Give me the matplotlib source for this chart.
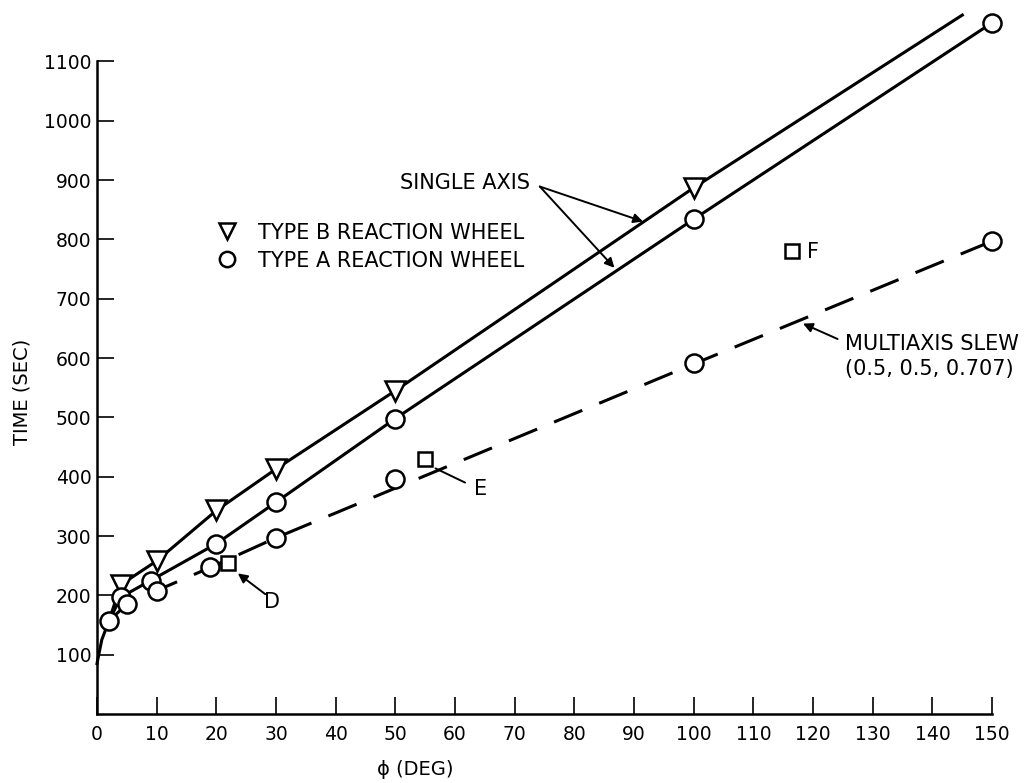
import matplotlib
matplotlib.use("Agg")
import matplotlib.pyplot as plt

# single axis slew, type A wheel (circles)
a_x = [2, 4, 9, 20, 30, 50, 100, 150]
a_y = [157, 197, 225, 287, 357, 498, 834, 1165]
# single axis slew, type B wheel (triangles)
b_x = [4, 10, 20, 30, 50, 100]
b_y = [218, 258, 343, 413, 545, 887]
# multiaxis slew (circles)
m_x = [5, 10, 19, 30, 50, 100, 150]
m_y = [185, 208, 247, 297, 396, 592, 797]
# special cases D, E, F (squares)
sq_x = [22, 55, 116.5]
sq_y = [255, 430, 781]

# hand drawn curves
a_line_x = [0, 0.8, 2, 4, 9, 20, 30, 50, 100, 150]
a_line_y = [85, 125, 157, 197, 225, 287, 357, 498, 834, 1165]
b_line_x = [2, 4, 10, 20, 30, 50, 100, 145]
b_line_y = [157, 218, 258, 343, 413, 545, 887, 1178]
m_line_x = [2, 5, 10, 19, 30, 100, 150]
m_line_y = [157, 185, 208, 247, 297, 590, 797]

x_ticks = list(range(0, 151, 10))
y_ticks = list(range(100, 1101, 100))

plt.rcParams["font.family"] = "DejaVu Sans"

fig = plt.figure(figsize=(10.31, 7.83), dpi=100)
ax = fig.add_axes([97 / 1031, 69 / 783, 925 / 1031, 712 / 783])
ax.set_xlim(0, 155)
ax.set_ylim(0, 1200)

for s in ["top", "right"]:
    ax.spines[s].set_visible(False)
ax.spines["left"].set_bounds(0, 1100)
ax.spines["bottom"].set_bounds(0, 150)
ax.spines["left"].set_linewidth(1.8)
ax.spines["bottom"].set_linewidth(1.8)

ax.set_xticks(x_ticks)
ax.set_yticks(y_ticks)
ax.tick_params(direction="in", length=12, width=1.2, labelsize=13.5)
ax.tick_params(axis="x", pad=8)
ax.tick_params(axis="y", pad=4)

lw = 2.2
ax.plot(a_line_x, a_line_y, "k-", lw=lw, zorder=2, clip_on=False)
ax.plot(b_line_x, b_line_y, "k-", lw=lw, zorder=2, clip_on=False)
ax.plot(m_line_x, m_line_y, "k", ls=(0, (10, 6)), lw=lw, zorder=2, clip_on=False)

mk = dict(ls="none", mfc="white", mec="k", mew=1.8, zorder=3, clip_on=False)
hb, = ax.plot(b_x, b_y, "v", ms=14, **mk)
ha, = ax.plot(a_x, a_y, "o", ms=13, **mk)
ax.plot(m_x, m_y, "o", ms=13, **mk)
ax.plot(sq_x, sq_y, "s", ms=10.5, **mk)

ax.legend([hb, ha], ["TYPE B REACTION WHEEL", "TYPE A REACTION WHEEL"],
          loc="upper left", bbox_to_anchor=(0.1297, 0.690), frameon=False,
          fontsize=15, markerscale=0.85, numpoints=1, handlelength=1.0,
          handletextpad=0.95, borderpad=0, borderaxespad=0, labelspacing=0.38)

fs = 15
arrow = dict(arrowstyle="-|>", color="k", lw=1.4, mutation_scale=14,
             shrinkA=0, shrinkB=0)

ax.text(72.6, 895, "SINGLE AXIS", ha="right", va="center", fontsize=fs)
ax.annotate("", xy=(91.5, 830), xytext=(74.2, 889), arrowprops=arrow)
ax.annotate("", xy=(86.7, 752), xytext=(74.2, 889), arrowprops=arrow)

ax.text(29.3, 189, "D", ha="center", va="center", fontsize=fs)
ax.annotate("", xy=(23.6, 237), xytext=(28.2, 202), arrowprops=arrow)

ax.text(64.2, 380, "E", ha="center", va="center", fontsize=fs)
ax.annotate("", xy=(56.3, 416), xytext=(62.1, 388),
            arrowprops=dict(arrowstyle="-", color="k", lw=1.4))

ax.text(120.0, 778, "F", ha="center", va="center", fontsize=fs)

ax.text(125.3, 602, "MULTIAXIS SLEW\n(0.5, 0.5, 0.707)", ha="left",
        va="center", fontsize=fs, linespacing=1.3)
ax.annotate("", xy=(118.3, 658), xytext=(124.1, 632), arrowprops=arrow)

ax.set_ylabel("TIME (SEC)", fontsize=14)
ax.yaxis.set_label_coords(-0.071, 0.452)
ax.set_xlabel("ϕ (DEG)", fontsize=14)
ax.xaxis.set_label_coords(0.344, -0.064)

fig.savefig("out.png", dpi=100)
